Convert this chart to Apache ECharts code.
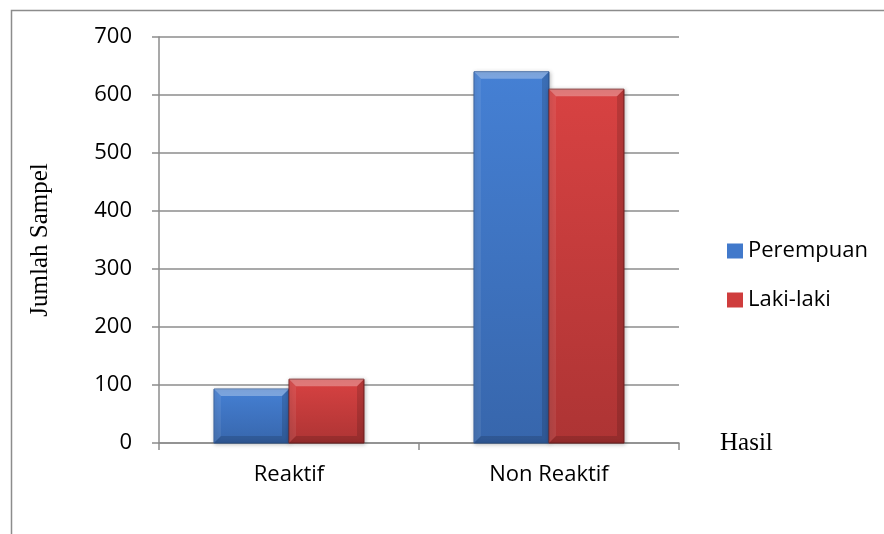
<!DOCTYPE html>
<html>
<head>
<meta charset="utf-8">
<script src="https://cdn.jsdelivr.net/npm/echarts@6/dist/echarts.min.js"></script>
<style>
  html, body { margin: 0; padding: 0; background: #fff; }
  #chart { width: 884px; height: 534px; }
</style>
</head>
<body>
<div id="chart"></div>
<script>
// Sample counts by test result and sex
const categories = ['Reaktif', 'Non Reaktif'];
const perempuan = [93, 640];
const lakiLaki = [110, 610];
const yTicks = [0, 100, 200, 300, 400, 500, 600, 700];

const BAR_FRACTION = 0.2885; // each bar's share of a category band

// Draws one bevelled bar; side = -1 puts it left of the band centre, +1 right.
function bevelBar(side, baseColor, edgeColor) {
  return function (params, api) {
    const cat = api.value(0);
    const val = api.value(1);
    const top = api.coord([cat, val]);
    const base = api.coord([cat, 0]);
    const band = api.size([1, 0])[0];
    const w = band * BAR_FRACTION;
    const x0 = side < 0 ? top[0] - w : top[0];
    const x1 = x0 + w;
    const y0 = top[1];
    const y1 = base[1];
    const h = y1 - y0;
    const b = Math.min(7, h / 3);
    return {
      type: 'group',
      children: [
        {
          type: 'rect',
          shape: { x: x0, y: y0, width: w, height: h },
          style: {
            fill: new echarts.graphic.LinearGradient(0, 0, 0, 1, [
              { offset: 0, color: baseColor[0] },
              { offset: 1, color: baseColor[1] }
            ]),
            stroke: edgeColor,
            lineWidth: 1,
            shadowBlur: 4,
            shadowColor: 'rgba(0,0,0,0.25)',
            shadowOffsetX: 1,
            shadowOffsetY: 1
          }
        },
        {
          type: 'polygon',
          shape: { points: [[x0, y0], [x1, y0], [x1 - b, y0 + b], [x0 + b, y0 + b]] },
          style: { fill: 'rgba(255,255,255,0.3)' }
        },
        {
          type: 'polygon',
          shape: { points: [[x0, y0], [x0 + b, y0 + b], [x0 + b, y1 - b], [x0, y1]] },
          style: { fill: 'rgba(255,255,255,0.08)' }
        },
        {
          type: 'polygon',
          shape: { points: [[x1, y0], [x1, y1], [x1 - b, y1 - b], [x1 - b, y0 + b]] },
          style: { fill: 'rgba(0,0,0,0.14)' }
        },
        {
          type: 'polygon',
          shape: { points: [[x0, y1], [x1, y1], [x1 - b, y1 - b], [x0 + b, y1 - b]] },
          style: { fill: 'rgba(0,0,0,0.14)' }
        }
      ]
    };
  };
}

const gridGrey = '#8c8c8c';
const tickFont = { fontFamily: 'Open Sans', fontSize: 22, color: '#000' };
const titleFont = { fontFamily: 'Liberation Serif', fontSize: 25, color: '#000' };

const chart = echarts.init(document.getElementById('chart'), null, { renderer: 'canvas' });
chart.setOption({
  backgroundColor: '#fff',
  animation: false,
  graphic: [{
    type: 'rect',
    left: 9, top: 8,
    shape: { width: 900, height: 600 },
    style: { fill: 'none', stroke: gridGrey, lineWidth: 1.5 },
    z: 0
  }],
  grid: { left: 159, right: 205, top: 37, bottom: 91 },
  legend: {
    orient: 'vertical',
    left: 722,
    top: 235,
    itemWidth: 16,
    itemHeight: 15,
    itemGap: 27,
    icon: 'rect',
    textStyle: tickFont,
    data: ['Perempuan', 'Laki-laki']
  },
  xAxis: {
    type: 'category',
    data: categories,
    name: 'Hasil',
    nameLocation: 'end',
    nameGap: 41,
    nameTextStyle: titleFont,
    axisLine: { show: true, lineStyle: { color: gridGrey, width: 1.5 } },
    axisTick: { show: true, length: 7, lineStyle: { color: gridGrey, width: 1.5 } },
    axisLabel: Object.assign({ margin: 21 }, tickFont)
  },
  yAxis: {
    type: 'value',
    min: 0,
    max: 700,
    interval: 100,
    name: 'Jumlah Sampel',
    nameLocation: 'middle',
    nameGap: 106,
    nameRotate: 90,
    nameTextStyle: titleFont,
    axisLine: { show: true, lineStyle: { color: gridGrey, width: 1.5 } },
    axisTick: { show: true, length: 7, lineStyle: { color: gridGrey, width: 1.5 } },
    splitLine: { show: true, lineStyle: { color: gridGrey, width: 1.5 } },
    axisLabel: Object.assign({
      margin: 27,
      formatter: function (v) { return yTicks.indexOf(v) >= 0 ? String(v) : ''; }
    }, tickFont)
  },
  series: [
    {
      name: 'Perempuan',
      type: 'custom',
      itemStyle: { color: '#4179cb' },
      renderItem: bevelBar(-1, ['#4580d4', '#3766ac'], '#2f5a98'),
      encode: { x: 0, y: 1 },
      data: perempuan.map(function (v, i) { return [i, v]; }),
      z: 3
    },
    {
      name: 'Laki-laki',
      type: 'custom',
      itemStyle: { color: '#cf3d3d' },
      renderItem: bevelBar(1, ['#d84242', '#ad3434'], '#7a2222'),
      encode: { x: 0, y: 1 },
      data: lakiLaki.map(function (v, i) { return [i, v]; }),
      z: 3
    }
  ]
});
</script>
</body>
</html>
